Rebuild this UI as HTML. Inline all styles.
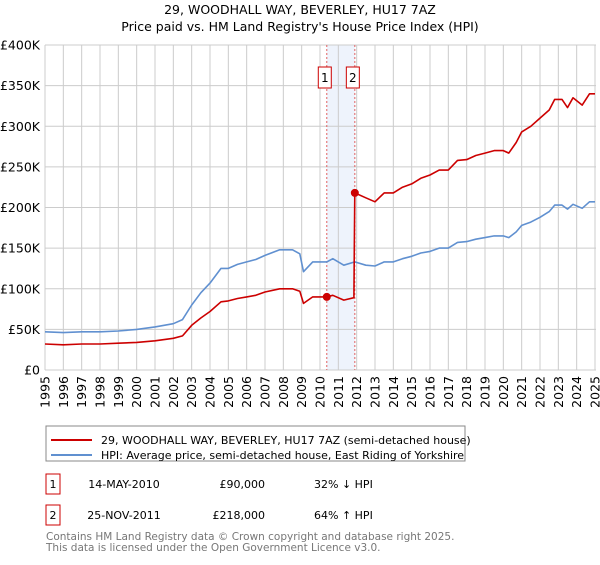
<!DOCTYPE html>
<html><head><meta charset="utf-8"><style>
body{margin:0;background:#fff;font-family:"Liberation Sans","DejaVu Sans",sans-serif;}
svg text{font-family:"DejaVu Sans","Liberation Sans",sans-serif;}
</style></head><body>
<svg id="chart" width="600" height="560" viewBox="0 0 600 560" xmlns="http://www.w3.org/2000/svg">
<text x="300" y="14" font-size="12.5" text-anchor="middle" fill="#000">29, WOODHALL WAY, BEVERLEY, HU17 7AZ</text>
<text x="300" y="31" font-size="12.5" text-anchor="middle" fill="#000">Price paid vs. HM Land Registry's House Price Index (HPI)</text>
<g id="grid"></g><g id="marks"></g><g id="axes"></g>
<rect x="46" y="426" width="419" height="35" fill="#fff" stroke="#888"/>
<line x1="51" y1="440" x2="92" y2="440" stroke="#cc0000" stroke-width="2"/>
<text x="101" y="444" font-size="11">29, WOODHALL WAY, BEVERLEY, HU17 7AZ (semi-detached house)</text>
<line x1="51" y1="455" x2="92" y2="455" stroke="#6090d0" stroke-width="2"/>
<text x="101" y="459" font-size="11">HPI: Average price, semi-detached house, East Riding of Yorkshire</text>
<g>
<rect x="46" y="474" width="14" height="20" fill="#fff" stroke="#cc0000"/>
<text x="53" y="488" font-size="11" text-anchor="middle">1</text>
<text x="124" y="488" font-size="11" text-anchor="middle">14-MAY-2010</text>
<text x="265" y="488" font-size="11" text-anchor="end">£90,000</text>
<text x="314" y="488" font-size="11">32% ↓ HPI</text></g>
<g>
<rect x="46" y="505" width="14" height="20" fill="#fff" stroke="#cc0000"/>
<text x="53" y="519" font-size="11" text-anchor="middle">2</text>
<text x="124" y="519" font-size="11" text-anchor="middle">25-NOV-2011</text>
<text x="265" y="519" font-size="11" text-anchor="end">£218,000</text>
<text x="314" y="519" font-size="11">64% ↑ HPI</text></g>
<text x="46" y="540" font-size="10.5" fill="#777">Contains HM Land Registry data © Crown copyright and database right 2025.</text>
<text x="46" y="551" font-size="10.5" fill="#777">This data is licensed under the Open Government Licence v3.0.</text>
</svg>
<script>
const hpiYears=[1995,1996,1997,1998,1999,2000,2001,2002,2002.5,2003,2003.5,2004,2004.6,2005,2005.5,2006,2006.5,2007,2007.8,2008.5,2008.9,2009.1,2009.6,2010.37,2010.7,2011.3,2011.9,2012.5,2013,2013.5,2014,2014.5,2015,2015.5,2016,2016.5,2017,2017.5,2018,2018.5,2019,2019.5,2020,2020.3,2020.7,2021,2021.5,2022,2022.5,2022.8,2023.2,2023.5,2023.8,2024.3,2024.7,2025];
const hpiValues=[47,46,47,47,48,50,53,57,62,80,95,107,125,125,130,133,136,141,148,148,143,121,133,133,137,129,133,129,128,133,133,137,140,144,146,150,150,157,158,161,163,165,165,163,170,178,182,188,195,203,203,198,204,199,207,207];
const propYears=[1995,1996,1997,1998,1999,2000,2001,2002,2002.5,2003,2003.5,2004,2004.6,2005,2005.5,2006,2006.5,2007,2007.8,2008.5,2008.9,2009.1,2009.6,2010.37,2010.7,2011.3,2011.85,2011.9,2012.5,2013,2013.5,2014,2014.5,2015,2015.5,2016,2016.5,2017,2017.5,2018,2018.5,2019,2019.5,2020,2020.3,2020.7,2021,2021.5,2022,2022.5,2022.8,2023.2,2023.5,2023.8,2024.3,2024.7,2025];
const propValues=[32,31,32,32,33,34,36,39,42,55,64,72,84,85,88,90,92,96,100,100,97,82,90,90,92,86,89,218,212,207,218,218,225,229,236,240,246,246,258,259,264,267,270,270,267,280,293,300,310,320,333,333,323,335,326,340,340];
const saleYears=[2010.37,2011.9];
const saleValues=[90,218];
const yTicks=[0,50,100,150,200,250,300,350,400];
const yTickLabels=["£0","£50K","£100K","£150K","£200K","£250K","£300K","£350K","£400K"];
const xTicks=[1995,1996,1997,1998,1999,2000,2001,2002,2003,2004,2005,2006,2007,2008,2009,2010,2011,2012,2013,2014,2015,2016,2017,2018,2019,2020,2021,2022,2023,2024,2025];
const NS="http://www.w3.org/2000/svg";
const X0=45,X1=595,Y0=370,Y1=45;
const xs=v=>X0+(v-1995)/30*(X1-X0);
const ys=v=>Y0-v/400*(Y0-Y1);
function mk(tag,attrs,parent){const e=document.createElementNS(NS,tag);for(const k in attrs)e.setAttribute(k,attrs[k]);parent.appendChild(e);return e;}
const grid=document.getElementById('grid'),marks=document.getElementById('marks'),axes=document.getElementById('axes');
const band=mk('rect',{x:xs(saleYears[0]),y:Y1,width:xs(saleYears[1])-xs(saleYears[0]),height:Y0-Y1,fill:'#eef3fc'},grid);


yTicks.forEach((t,i)=>{
 const l=mk('line',{x1:X0,x2:X1+1,y1:ys(t),y2:ys(t),stroke:'#ccc'},grid);
 
 
 const tx=mk('text',{x:X0-5,y:ys(t)+4.5,'font-size':12.5,'text-anchor':'end'},axes);
 tx.textContent=yTickLabels[i];
 
 
});
xTicks.forEach(t=>{
 const l=mk('line',{x1:xs(t),x2:xs(t),y1:Y1,y2:Y0,stroke:'#ccc'},grid);
 
 
 const tx=mk('text',{x:0,y:0,'font-size':12.5,'text-anchor':'end',transform:`translate(${xs(t)+4.5},${Y0+6}) rotate(-90)`},axes);
 tx.textContent=t;
 
 
});
saleYears.forEach((s,i)=>{
 const l=mk('line',{x1:xs(s),x2:xs(s),y1:Y1,y2:Y0,stroke:'#e06060','stroke-dasharray':'2,2','stroke-width':1},grid);
 
 
 const g=mk('g',{},marks);
 
 
 mk('rect',{x:xs(s)-8.5,y:67,width:13,height:21,fill:'#fff',stroke:'#cc0000'},g);
 const tt=mk('text',{x:xs(s)-2,y:82,'font-size':12,'text-anchor':'middle'},g);
 tt.textContent=i+1;
});
function line(xa,va,color,name){
 const d=xa.map((x,i)=>(i?'L':'M')+xs(x).toFixed(1)+','+ys(va[i]).toFixed(1)).join('');
 const p=mk('path',{d:d,fill:'none',stroke:color,'stroke-width':1.6,'stroke-linejoin':'round'},marks);
 
 
}
line(hpiYears,hpiValues,'#6090d0','hpi-line');
line(propYears,propValues,'#cc0000','property-price-line');
saleYears.forEach((s,i)=>{
 const c=mk('circle',{cx:xs(s),cy:ys(saleValues[i]),r:4,fill:'#cc0000'},marks);
 
 
});
</script>
</body></html>
